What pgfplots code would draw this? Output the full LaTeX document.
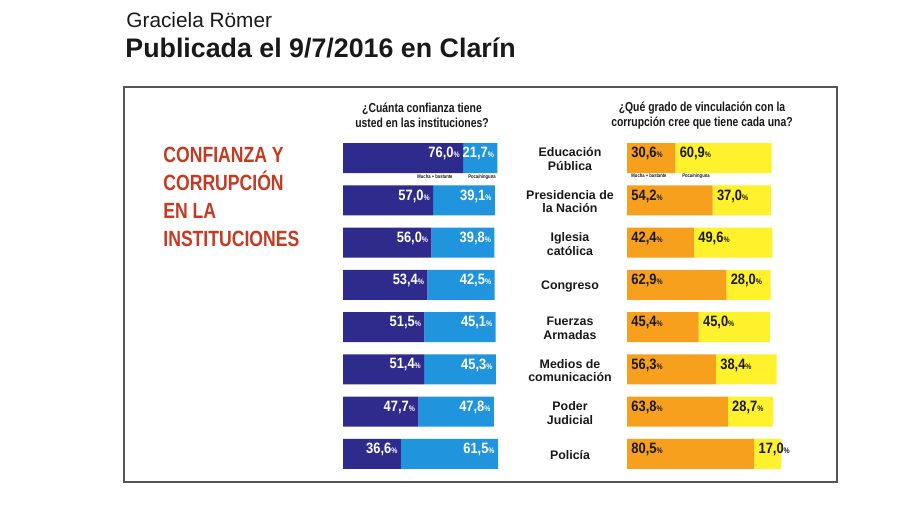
\documentclass[border=0pt]{standalone}
\usepackage{pgfplots}
\pgfplotsset{compat=1.18}
\usepackage{pgfplotstable}
\usepackage{fontspec}
\setmainfont{Liberation Sans}
\newfontfamily\cond[FakeStretch=0.8]{Liberation Sans}
\newfontfamily\condv[FakeStretch=0.86]{Liberation Sans}

\definecolor{dblue}{RGB}{46,43,140}
\definecolor{lblue}{RGB}{33,148,222}
\definecolor{orng}{RGB}{246,160,30}
\definecolor{yllw}{RGB}{255,241,44}
\definecolor{redt}{RGB}{196,58,34}
\definecolor{framec}{RGB}{85,85,85}
\definecolor{txt}{RGB}{25,25,25}

\pgfplotstableread{
row conf noconf
0 76.0 21.7
1 57.0 39.1
2 56.0 39.8
3 53.4 42.5
4 51.5 45.1
5 51.4 45.3
6 47.7 47.8
7 36.6 61.5
}\confianza

\pgfplotstableread{
row mucha poca
0 30.6 60.9
1 54.2 37.0
2 42.4 49.6
3 62.9 28.0
4 45.4 45.0
5 56.3 38.4
6 63.8 28.7
7 80.5 17.0
}\corrupcion

\newcommand{\pct}{{\fontsize{4}{4.5}\selectfont\%}}
\newcommand{\valfmt}{\pgfmathprintnumber[fixed,fixed zerofill,precision=1,use comma,assume math mode=true]{\pgfplotspointmeta}\pct}

\pgfplotsset{
  barbase/.style={
    scale only axis, width=79pt, height=169pt,
    xmin=0, xmax=100, ymin=-0.5, ymax=7.5, y dir=reverse,
    axis line style={draw=none}, xtick=\empty, major tick length=0pt,
    clip=false,
  },
}

\begin{document}
\begin{tikzpicture}[x=0.5pt,y=-0.5pt]
\useasboundingbox (0,0) rectangle (900,506);
\fill[white] (0,0) rectangle (900,506);
\draw[framec, line width=1pt] (124,87) rectangle (837,482);

\node[anchor=base west, inner sep=0pt, text=txt, font=\fontsize{10.4}{12}\selectfont] at (126,28) {Graciela Römer};
\node[anchor=base west, inner sep=0pt, text=txt, font=\bfseries\fontsize{13.4}{15}\selectfont] at (125,58) {Publicada el 9/7/2016 en Clarín};

\node[anchor=base west, inner sep=0pt, align=left, text=redt, font=\cond\bfseries\fontsize{11}{14}\selectfont] at (163,247) {CONFIANZA Y\\CORRUPCIÓN\\EN LA\\INSTITUCIONES};

\node[anchor=base, inner sep=0pt, align=center, text=txt, font=\cond\bfseries\fontsize{6.5}{7.6}\selectfont] at (422,128) {¿Cuánta confianza tiene\\usted en las instituciones?};
\node[anchor=base, inner sep=0pt, align=center, text=txt, font=\cond\bfseries\fontsize{6.5}{7.6}\selectfont] at (702,127) {¿Qué grado de vinculación con la\\corrupción cree que tiene cada una?};

\node[anchor=base, inner sep=0pt, text=txt, font=\cond\bfseries\fontsize{2.6}{3}\selectfont] at (435,179) {Mucha + bastante};
\node[anchor=base, inner sep=0pt, text=txt, font=\cond\bfseries\fontsize{2.6}{3}\selectfont] at (482,179) {Poca/ninguna};
\node[anchor=base, inner sep=0pt, text=txt, font=\cond\bfseries\fontsize{2.6}{3}\selectfont] at (649,178) {Mucha + bastante};
\node[anchor=base, inner sep=0pt, text=txt, font=\cond\bfseries\fontsize{2.6}{3}\selectfont] at (696,178) {Poca/ninguna};

% Left chart: confianza bars
\begin{axis}[barbase, at={(171.5pt,-68.5pt)}, anchor=north west,
  xbar stacked, bar width=15pt, ytick=\empty,
]
\addplot[fill=dblue, draw=none] table[x=conf, y=row] {\confianza};
\addplot[fill=lblue, draw=none] table[x=noconf, y=row] {\confianza};
\end{axis}

% Left chart: value labels at the end of each segment
\begin{axis}[barbase, at={(171.5pt,-68.5pt)}, anchor=north west, ytick=\empty,
  nodes near coords={\valfmt},
  nodes near coords style={anchor=east, text=white, inner sep=1.5pt, yshift=2.2pt, font=\condv\bfseries\fontsize{7.5}{8}\selectfont},
]
\addplot[draw=none, mark=none, point meta=explicit] table[x=conf, y=row, meta=conf] {\confianza};
\addplot[draw=none, mark=none, point meta=explicit] table[x expr=\thisrow{conf}+\thisrow{noconf}, y=row, meta=noconf] {\confianza};
\end{axis}

% Right chart: corrupcion bars and institution names
\begin{axis}[barbase, at={(313.5pt,-68.5pt)}, anchor=north west,
  xbar stacked, bar width=15pt,
  ytick={0,...,7},
  yticklabels={{Educación\\Pública},{Presidencia de\\la Nación},{Iglesia\\católica},{Congreso},{Fuerzas\\Armadas},{Medios de\\comunicación},{Poder\\Judicial},{Policía}},
  yticklabel style={anchor=center, align=center, xshift=-28.5pt, yshift=-0.6pt, text=txt, font=\bfseries\fontsize{6.2}{6.9}\selectfont},
  ytick style={draw=none},
]
\addplot[fill=orng, draw=none] table[x=mucha, y=row] {\corrupcion};
\addplot[fill=yllw, draw=none] table[x=poca, y=row] {\corrupcion};
\end{axis}

% Right chart: value labels
\begin{axis}[barbase, at={(313.5pt,-68.5pt)}, anchor=north west, ytick=\empty,
  nodes near coords={\valfmt},
  nodes near coords style={anchor=west, text=txt, inner sep=2pt, yshift=2.2pt, font=\condv\bfseries\fontsize{7.5}{8}\selectfont},
]
\addplot[draw=none, mark=none, point meta=explicit] table[x expr=0, y=row, meta=mucha] {\corrupcion};
\addplot[draw=none, mark=none, point meta=explicit] table[x=mucha, y=row, meta=poca] {\corrupcion};
\end{axis}
\end{tikzpicture}
\end{document}
